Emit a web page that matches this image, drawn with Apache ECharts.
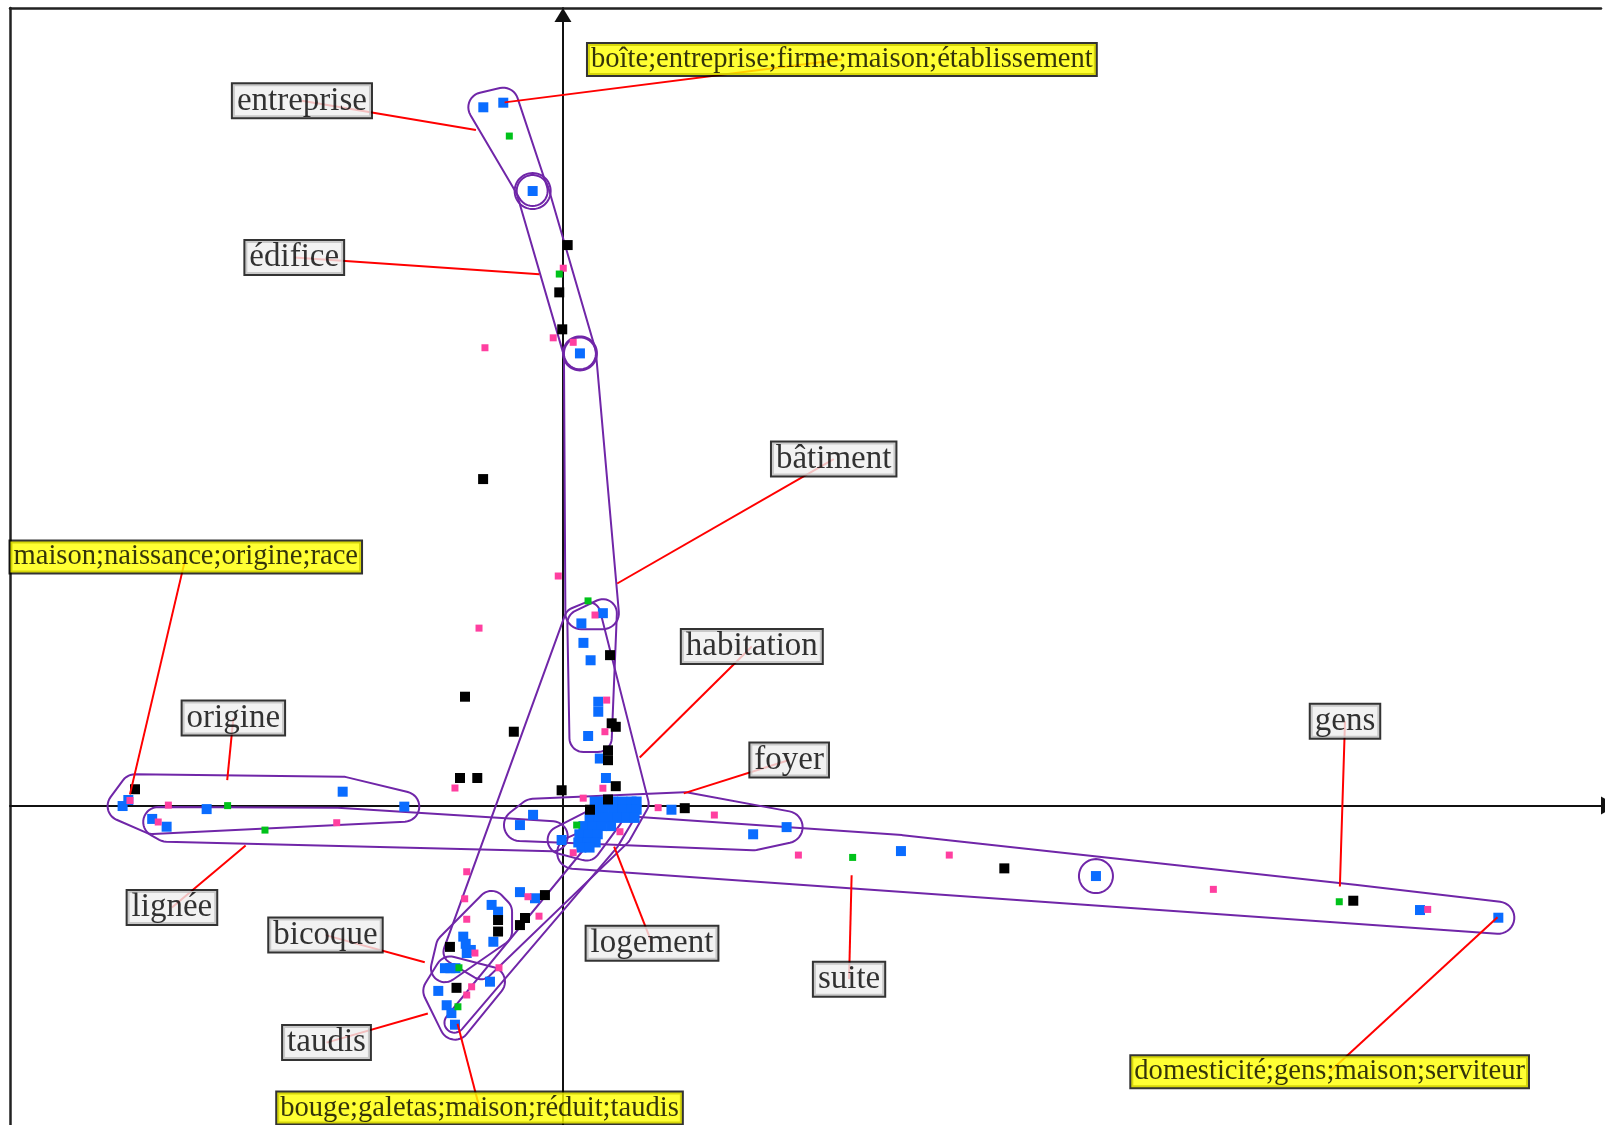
<!DOCTYPE html>
<html>
<head>
<meta charset="utf-8">
<script src="https://cdn.jsdelivr.net/npm/echarts@6/dist/echarts.min.js"></script>
<style>html,body{margin:0;padding:0;background:#fff}#c{width:1605px;height:1125px}</style>
</head>
<body>
<div id="c"></div>
<script>
// ---- data (factor-plane coordinates) ----
const bluePts = [
 [-0.778,6.822],[-0.583,6.867],[-0.296,6.004],[0.166,4.418],
 [0.18,1.78],[0.20,1.59],[0.27,1.42],[0.345,1.015],[0.345,0.917],[0.246,0.68],[0.39,1.88],[0.36,0.46],[0.42,0.27],
 [-0.292,-0.09],[-0.42,-0.19],[-0.013,-0.336],[0.23,-0.40],[1.06,-0.04],[1.858,-0.28],[2.185,-0.21],
 [3.302,-0.444],[5.207,-0.688],[8.373,-1.02],[9.138,-1.095],
 [-4.246,0.055],[-4.302,-0.004],[-3.481,-0.034],[-2.152,0.136],[-1.55,-0.01],[-4.013,-0.13],[-3.872,-0.206],
 [-0.697,-0.97],[-0.634,-1.036],[-0.974,-1.28],[-0.94,-1.44],[-0.68,-1.33],[-1.153,-1.588],[-1.05,-1.588],[-1.10,-1.588],[-0.42,-0.845],[-0.273,-0.905],[-0.9,-1.41],[-0.95,-1.35],
 [-1.218,-1.81],[-1.136,-1.95],[-1.09,-2.027],[-1.055,-2.14],[-0.713,-1.72],
 [0.31,0.04],[0.40,0.04],[0.49,0.04],[0.58,0.04],[0.67,0.04],[0.72,0.04],
 [0.31,-0.04],[0.40,-0.04],[0.49,-0.04],[0.58,-0.04],[0.67,-0.04],[0.72,-0.04],
 [0.26,-0.12],[0.35,-0.12],[0.44,-0.12],[0.53,-0.12],[0.62,-0.12],[0.70,-0.12],
 [0.20,-0.20],[0.29,-0.20],[0.38,-0.20],[0.47,-0.20],
 [0.16,-0.28],[0.25,-0.28],[0.34,-0.28],
 [0.15,-0.36],[0.24,-0.36],[0.32,-0.36],
 [0.18,-0.41],[0.26,-0.41]
];
const blackPts = [
 [0.046,5.476],[-0.036,5.014],[-0.007,4.653],[-0.78,3.19],
 [0.46,1.47],[0.476,0.804],[0.516,0.77],[0.44,0.54],[0.44,0.444],[0.516,0.19],[0.44,0.06],
 [-0.013,0.15],[-0.957,1.064],[-0.48,0.722],[-1.006,0.27],[-0.837,0.27],
 [0.264,-0.04],[1.19,-0.025],[4.312,-0.613],[7.721,-0.929],[-4.181,0.16],
 [-0.634,-1.118],[-0.634,-1.23],[-1.104,-1.38],[-0.371,-1.098],[-0.42,-1.167],[-0.176,-0.874],[-1.04,-1.78]
];
const pinkPts = [
 [-0.762,4.473],[-0.095,4.57],[0.10,4.526],[0.003,5.25],[-0.046,2.243],[-0.82,1.734],[-1.055,0.172],[0.198,0.073],
 [0.10,-0.46],[0.39,0.17],[0.93,-0.02],[1.479,-0.092],[2.30,-0.483],[3.774,-0.483],[6.354,-0.818],[8.448,-1.014],
 [-4.23,0.05],[-3.855,0.005],[-3.954,-0.16],[-2.21,-0.167],[0.313,1.862],[0.427,1.031],[0.41,0.722],[0.557,-0.255],
 [-0.94,-0.646],[-0.96,-0.91],[-0.94,-1.11],[-0.86,-1.44],[-0.234,-1.08],[-0.342,-0.89],[-0.625,-1.584],[-0.892,-1.77],[-0.94,-1.85]
];
const greenPts = [
 [-0.524,6.541],[-0.036,5.193],[0.245,2.0],[-3.276,0.0],[-2.911,-0.239],[2.83,-0.506],[7.584,-0.939],[0.134,-0.19],[-1.026,-1.965],[-1.016,-1.584]
];
// groups (member anchors of each outlined cluster)
const groupEntreprise = [[-0.778,6.822],[-0.583,6.867],[-0.296,6.004]];
const groupBoite = [[-0.296,6.004]];
const groupEdifice = [[-0.296,6.004],[0.166,4.418]];
const groupEdifice2 = [[0.166,4.418]];
const groupBatiment = [[0.166,4.418],[0.39,1.88],[0.18,1.88]];
const groupHabInner = [[0.18,1.78],[0.39,1.88],[0.20,0.66],[0.34,0.66]];
const groupHabitation = [[0.13,1.82],[0.25,1.87],[0.72,0.02],[0.55,-0.28],[-1.05,-1.43],[-0.80,-1.58]];
const groupFoyer = [[-0.42,-0.19],[-0.292,-0.09],[1.06,-0.04],[1.19,-0.025],[2.185,-0.21],[1.858,-0.28]];
const groupSuite = [[0.10,-0.46],[0.557,-0.255],[2.30,-0.483],[3.302,-0.444],[5.207,-0.688],[7.721,-0.929],[9.138,-1.095]];
const groupLignee = [[-3.954,-0.16],[-3.872,-0.206],[-2.21,-0.167],[-0.1,-0.3]];
const groupOrigine = [[-4.302,-0.004],[-4.181,0.16],[-2.152,0.136],[-1.55,-0.01],[-4.013,-0.13]];
const groupBicoque = [[-0.697,-0.97],[-0.634,-1.036],[-0.634,-1.23],[-1.104,-1.38],[-1.153,-1.588],[-0.94,-1.44]];
const groupTaudis = [[-1.218,-1.81],[-1.055,-2.14],[-0.713,-1.72],[-1.10,-1.62]];
const groupGens = [[5.207,-0.688]];
const groupLogement = [[-0.013,-0.336],[0.23,-0.40],[0.45,-0.10]];
const groupBouge = [[0.60,-0.10],[0.45,-0.35],[-1.06,-2.12]];
// labels: text, label anchor (x,y), pointed member (x,y), kind
const annotations = [
 ['entreprise', -2.55, 6.885, -0.85, 6.60, 'word'],
 ['édifice', -2.625, 5.355, -0.23, 5.19, 'word'],
 ['bâtiment', 2.645, 3.385, 0.53, 2.17, 'word'],
 ['habitation', 1.845, 1.555, 0.75, 0.47, 'word'],
 ['origine', -3.22, 0.855, -3.28, 0.25, 'word'],
 ['foyer', 2.21, 0.445, 1.18, 0.12, 'word'],
 ['gens', 7.64, 0.825, 7.59, -0.79, 'word'],
 ['lignée', -3.82, -0.995, -3.10, -0.39, 'word'],
 ['bicoque', -2.32, -1.265, -1.35, -1.53, 'word'],
 ['logement', 0.87, -1.345, 0.50, -0.40, 'word'],
 ['suite', 2.795, -1.695, 2.82, -0.68, 'word'],
 ['taudis', -2.31, -2.315, -1.32, -2.03, 'word'],
 ['boîte;entreprise;firme;maison;établissement', 2.725, 7.29, -0.57, 6.87, 'synset'],
 ['maison;naissance;origine;race', -3.685, 2.43, -4.23, 0.11, 'synset'],
 ['bouge;galetas;maison;réduit;taudis', -0.815, -2.955, -1.03, -2.13, 'synset'],
 ['domesticité;gens;maison;serviteur', 7.49, -2.60, 9.13, -1.09, 'synset']
];
const XMIN = -5.402, XMAX = 10.141, YMIN = -3.120, YMAX = 7.792;

// ---- layout / styling ----
const groups = [groupEntreprise, groupBoite, groupEdifice, groupEdifice2, groupBatiment, groupHabInner,
  groupHabitation, groupFoyer, groupSuite, groupLignee, groupOrigine, groupBicoque, groupTaudis,
  groupGens, groupLogement, groupBouge];
const groupPad = [15, 18, 16, 17, 16, 14, 12, 16, 16, 15, 15, 14, 15, 17, 14, 10];

function hull(points) {
  const p = points.slice().sort((a, b) => a[0] - b[0] || a[1] - b[1]);
  if (p.length <= 1) return p;
  const cross = (o, a, b) => (a[0]-o[0])*(b[1]-o[1]) - (a[1]-o[1])*(b[0]-o[0]);
  const lower = [];
  for (const q of p) { while (lower.length >= 2 && cross(lower[lower.length-2], lower[lower.length-1], q) <= 0) lower.pop(); lower.push(q); }
  const upper = [];
  for (let i = p.length-1; i >= 0; i--) { const q = p[i]; while (upper.length >= 2 && cross(upper[upper.length-2], upper[upper.length-1], q) <= 0) upper.pop(); upper.push(q); }
  upper.pop(); lower.pop();
  return lower.concat(upper);
}
function padded(pts, r) {
  const h = hull(pts), out = [];
  if (h.length === 1) {
    for (let k = 0; k < 60; k++) { const a = k / 60 * 2 * Math.PI; out.push([h[0][0] + r*Math.cos(a), h[0][1] + r*Math.sin(a)]); }
    return out;
  }
  const n = h.length;
  for (let i = 0; i < n; i++) {
    const pv = h[(i-1+n)%n], c = h[i], nx = h[(i+1)%n];
    let a0 = Math.atan2(-(c[0]-pv[0]), (c[1]-pv[1]));
    let a1 = Math.atan2(-(nx[0]-c[0]), (nx[1]-c[1]));
    while (a1 < a0 - 1e-9) a1 += 2*Math.PI;
    const steps = Math.max(2, Math.ceil((a1 - a0) / (Math.PI/18)));
    for (let s = 0; s <= steps; s++) { const a = a0 + (a1 - a0) * s / steps; out.push([c[0] + r*Math.cos(a), c[1] + r*Math.sin(a)]); }
  }
  return out;
}

const chart = echarts.init(document.getElementById('c'));
const noAxisBits = { axisTick: {show:false}, axisLabel: {show:false}, splitLine: {show:false} };
function scatter(data, color, size) {
  return { type: 'scatter', data: data, symbol: 'rect', symbolSize: size, z: 2, silent: true,
    itemStyle: { color: color, opacity: 1 }, emphasis: { disabled: true } };
}
const wordLabel = { show: true, position: 'inside', color: '#000', fontFamily: 'Liberation Serif', fontSize: 33,
  lineHeight: 30, backgroundColor: '#efefef', borderColor: '#000', borderWidth: 2, padding: [2, 4, 1, 4] };
const synLabel = { show: true, position: 'inside', color: '#000', fontFamily: 'Liberation Serif', fontSize: 28.6,
  lineHeight: 28, backgroundColor: '#ffff00', borderColor: '#000', borderWidth: 2, padding: [2, 3, 1, 3] };

chart.setOption({
  animation: false,
  backgroundColor: '#fff',
  grid: { left: 10, right: 4, top: 8, bottom: 0, containLabel: false },
  xAxis: [
    Object.assign({ type: 'value', min: XMIN, max: XMAX,
      axisLine: { onZero: true, lineStyle: { color: '#111', width: 2 }, symbol: ['none', 'triangle'], symbolSize: [18, 16], symbolOffset: [0, 8] } }, noAxisBits),
    Object.assign({ type: 'value', position: 'top', min: XMIN, max: XMAX,
      axisLine: { show: true, onZero: false, lineStyle: { color: '#222', width: 2.5 } } }, noAxisBits)
  ],
  yAxis: [
    Object.assign({ type: 'value', min: YMIN, max: YMAX, position: 'left',
      axisLine: { onZero: true, lineStyle: { color: '#111', width: 2 }, symbol: ['none', 'triangle'], symbolSize: [17, 14], symbolOffset: [0, -7] } }, noAxisBits),
    Object.assign({ type: 'value', min: YMIN, max: YMAX, position: 'left',
      axisLine: { show: true, onZero: false, lineStyle: { color: '#222', width: 2.5 } } }, noAxisBits)
  ],
  series: [
    { type: 'custom', z: 1, silent: true, clip: false,
      data: groups.map(g => g[0]),
      renderItem: function (params, api) {
        const g = groups[params.dataIndex];
        const px = g.map(p => api.coord(p));
        return { type: 'polygon', shape: { points: padded(px, groupPad[params.dataIndex]) },
          style: { fill: 'none', stroke: '#7026a8', lineWidth: 2 } };
      } },
    scatter(bluePts, '#0a6cff', 10),
    scatter(blackPts, '#000000', 10),
    scatter(pinkPts, '#ff3fa0', 7),
    scatter(greenPts, '#00c21a', 7),
    { type: 'lines', coordinateSystem: 'cartesian2d', z: 3, silent: true,
      lineStyle: { color: '#ff0000', width: 2, opacity: 1 },
      data: annotations.map(a => ({ coords: [[a[1], a[2]], [a[3], a[4]]] })) },
    { type: 'scatter', z: 4, silent: true, symbol: 'rect', symbolSize: 1,
      itemStyle: { color: 'rgba(0,0,0,0)' },
      data: annotations.map(a => ({ value: [a[1], a[2]], name: a[0], label: Object.assign({ formatter: a[0] }, a[5] === 'word' ? wordLabel : synLabel) })) }
  ]
});
</script>
</body>
</html>
